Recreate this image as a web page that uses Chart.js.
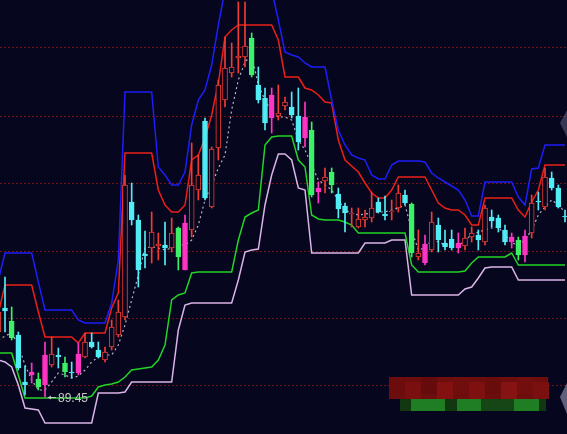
<!DOCTYPE html>
<html>
<head>
<meta charset="utf-8">
<script src="https://cdn.jsdelivr.net/npm/chart.js@4.4.1/dist/chart.umd.min.js"></script>
<style>
  html, body { margin: 0; padding: 0; background: #06061f; overflow: hidden; }
  #wrap { position: relative; width: 567px; height: 434px; }
</style>
</head>
<body>
<div id="wrap"><canvas id="kChart"></canvas></div>
<script>
// daily candles, oldest first
const opens = [
  91.40, 92.12, 91.73, 91.31, 89.90, 90.20, 89.99, 89.81, 90.41, 90.71,
  90.47, 90.20, 90.17, 90.65, 91.10, 90.86, 90.56, 90.95, 91.31, 91.85,
  95.30, 94.76, 93.74, 93.92, 93.98, 94.01, 93.92, 94.52, 93.26, 94.46,
  95.66, 97.73, 95.15, 96.92, 98.36, 99.17, 99.62, 99.65, 100.22, 98.81,
  98.42, 97.82, 97.88, 98.18, 98.15, 97.88, 97.85, 97.46, 95.72, 95.93,
  96.20, 95.54, 95.18, 94.94, 94.55, 94.76, 94.82, 95.30, 94.94, 95.00,
  95.12, 95.51, 95.24, 93.65, 94.04, 93.86, 94.61, 94.07, 94.19, 94.07,
  93.98, 94.25, 94.31, 94.10, 94.85, 94.82, 94.46, 94.25, 94.16, 93.71,
  94.37, 95.33, 95.15, 96.02, 95.72, 94.88
];
const highs = [
  92.66, 93.05, 92.15, 91.40, 90.38, 90.47, 90.17, 91.10, 91.25, 90.92,
  90.65, 90.50, 91.07, 91.37, 91.37, 91.10, 90.95, 91.76, 92.36, 96.11,
  95.87, 94.91, 94.43, 95.00, 94.37, 94.70, 94.82, 94.55, 94.91, 97.07,
  96.71, 97.82, 96.95, 98.96, 100.25, 100.07, 101.30, 101.30, 100.37, 99.35,
  98.72, 98.72, 98.81, 98.45, 98.60, 98.72, 98.30, 97.70, 95.90, 96.32,
  96.32, 95.72, 95.27, 95.12, 95.12, 95.06, 95.60, 95.42, 95.48, 95.36,
  95.81, 95.66, 95.27, 94.46, 94.31, 95.00, 94.82, 94.46, 94.46, 94.37,
  94.52, 94.55, 94.46, 95.21, 95.06, 94.91, 94.61, 94.37, 94.25, 94.46,
  95.51, 95.60, 96.32, 96.20, 95.81, 95.06
];
const lows = [
  91.31, 91.40, 91.16, 90.26, 89.51, 89.87, 89.66, 89.45, 90.35, 90.32,
  90.05, 90.02, 90.11, 90.62, 90.92, 90.62, 90.50, 90.86, 91.25, 91.76,
  94.61, 92.75, 93.32, 93.47, 93.56, 93.41, 93.80, 93.26, 93.26, 94.25,
  95.36, 95.36, 95.12, 96.56, 98.15, 99.05, 99.17, 99.35, 99.05, 98.27,
  97.46, 97.37, 97.76, 98.06, 97.82, 96.86, 96.95, 95.45, 95.27, 95.57,
  95.57, 94.82, 94.40, 94.55, 94.52, 94.55, 94.70, 94.97, 94.76, 94.76,
  95.00, 95.21, 93.65, 93.56, 93.41, 93.80, 93.80, 93.86, 93.86, 93.77,
  93.86, 94.10, 93.86, 94.01, 94.55, 94.40, 94.01, 93.92, 93.56, 93.50,
  94.22, 95.06, 95.06, 95.66, 95.12, 94.70
];
const closes = [
  92.00, 92.03, 91.22, 90.32, 89.81, 90.11, 89.75, 90.71, 90.74, 90.65,
  90.20, 90.17, 90.74, 91.10, 90.95, 90.65, 90.80, 91.55, 92.00, 95.81,
  94.76, 93.26, 93.68, 94.40, 94.04, 93.92, 94.37, 93.65, 94.67, 95.81,
  96.11, 95.42, 96.89, 98.81, 99.32, 99.35, 99.68, 99.98, 99.11, 98.36,
  97.67, 98.51, 97.97, 98.30, 97.91, 97.10, 97.22, 95.51, 95.60, 96.05,
  95.81, 95.09, 94.97, 94.97, 94.79, 94.85, 95.12, 95.00, 94.88, 95.03,
  95.57, 95.27, 93.77, 93.77, 93.47, 94.70, 94.16, 93.95, 93.92, 93.92,
  94.22, 94.37, 94.16, 95.12, 94.73, 94.52, 94.10, 94.10, 93.71, 94.28,
  95.27, 95.30, 96.05, 95.72, 95.15, 94.85
];
// 0 = none, 1 = green signal bar, 2 = magenta signal bar
const signals = [
  0, 0, 1, 0, 0, 2, 1, 2, 0, 0,
  1, 0, 2, 0, 0, 0, 0, 0, 0, 0,
  0, 0, 0, 0, 0, 0, 0, 1, 2, 0,
  0, 0, 0, 0, 0, 0, 0, 0, 1, 0,
  0, 2, 0, 0, 0, 0, 2, 1, 2, 0,
  1, 0, 0, 0, 0, 0, 0, 0, 0, 0,
  0, 0, 1, 0, 2, 0, 0, 0, 0, 2,
  0, 0, 0, 0, 0, 0, 0, 2, 1, 2,
  0, 0, 0, 0, 0, 0
];

// channel lines
const upperBand = [
  92.96, 93.77, 93.77, 93.77, 93.77, 93.77, 92.90, 92.06, 92.06, 92.06,
  92.06, 92.06, 91.76, 91.67, 91.67, 91.67, 91.67, 92.27, 93.56, 98.60,
  98.60, 98.60, 98.60, 98.60, 96.35, 96.11, 95.81, 95.81, 96.20, 97.61,
  98.36, 98.66, 99.41, 100.61, 101.66, 101.96, 101.96, 101.96, 101.96, 101.96,
  101.96, 101.66, 100.76, 99.80, 99.71, 99.65, 99.47, 99.35, 99.35, 99.35,
  98.36, 97.46, 97.01, 96.71, 96.62, 96.56, 96.11, 95.99, 95.99, 96.41,
  96.53, 96.53, 96.53, 96.53, 96.50, 96.17, 96.02, 95.90, 95.78, 95.66,
  95.36, 94.88, 94.88, 95.90, 95.90, 95.90, 95.90, 95.90, 95.45, 95.21,
  96.29, 96.32, 97.01, 97.01, 97.01, 97.01
];
const midBand = [
  91.97, 92.81, 92.81, 92.81, 92.81, 92.81, 92.00, 91.25, 91.25, 91.25,
  91.25, 91.25, 91.07, 91.37, 91.37, 91.37, 91.37, 92.12, 92.57, 96.77,
  96.77, 96.77, 96.77, 96.77, 95.66, 95.21, 95.00, 95.00, 95.21, 96.56,
  96.71, 97.22, 97.91, 98.87, 100.25, 100.46, 100.61, 100.61, 100.61, 100.61,
  100.61, 100.61, 100.16, 99.05, 99.05, 99.05, 98.72, 98.66, 98.51, 98.30,
  98.27, 97.16, 96.56, 96.38, 96.20, 95.87, 95.57, 95.42, 95.42, 95.66,
  96.05, 96.05, 96.05, 96.05, 96.05, 95.66, 95.27, 95.12, 95.06, 95.06,
  94.91, 94.61, 94.61, 95.42, 95.42, 95.42, 95.42, 95.42, 95.06, 94.85,
  95.30, 95.66, 96.41, 96.41, 96.41, 96.41
];
const lowerBand = [
  90.77, 90.77, 90.77, 90.11, 89.42, 89.42, 89.42, 89.42, 89.42, 89.42,
  89.42, 89.42, 89.42, 89.42, 89.48, 89.75, 89.81, 89.84, 89.90, 90.05,
  90.26, 90.29, 90.32, 90.35, 90.56, 91.01, 92.36, 92.51, 92.57, 93.17,
  93.20, 93.20, 93.20, 93.20, 93.20, 93.20, 94.16, 94.85, 94.97, 95.06,
  97.01, 97.25, 97.28, 97.28, 97.28, 96.56, 96.35, 94.91, 94.79, 94.76,
  94.76, 94.76, 94.70, 94.61, 94.37, 94.37, 94.37, 94.37, 94.37, 94.37,
  94.37, 94.37, 93.41, 93.20, 93.20, 93.20, 93.20, 93.20, 93.20, 93.20,
  93.23, 93.47, 93.65, 93.65, 93.65, 93.65, 93.65, 93.77, 93.41, 93.41,
  93.41, 93.41, 93.41, 93.41, 93.41, 93.41
];
const floorBand = [
  90.56, 90.50, 90.35, 89.81, 89.12, 89.09, 89.06, 88.67, 88.67, 88.67,
  88.67, 88.67, 88.67, 88.67, 88.67, 89.57, 89.57, 89.57, 89.57, 89.60,
  89.90, 89.90, 89.90, 89.90, 89.90, 89.90, 89.90, 91.46, 92.21, 92.27,
  92.27, 92.27, 92.27, 92.27, 92.27, 92.27, 92.96, 93.80, 93.86, 93.89,
  95.21, 96.11, 96.74, 96.74, 96.56, 95.72, 95.66, 93.77, 93.77, 93.77,
  93.77, 93.77, 93.77, 93.77, 93.77, 94.07, 94.07, 94.07, 94.07, 94.16,
  94.16, 94.16, 92.51, 92.51, 92.51, 92.51, 92.51, 92.51, 92.51, 92.51,
  92.69, 92.75, 93.02, 93.32, 93.35, 93.35, 93.35, 93.35, 92.96, 92.96,
  92.96, 92.96, 92.96, 92.96, 92.96, 92.96
];
const trailStop = [
  91.16, 91.28, 91.37, 91.01, 90.41, 89.96, 89.66, 89.66, 89.90, 90.17,
  90.11, 90.02, 90.08, 90.26, 90.50, 90.65, 90.71, 90.71, 91.01, 91.61,
  92.36, 93.11, 93.92, 93.95, 93.92, 93.86, 93.92, 94.01, 94.01, 94.16,
  94.61, 95.36, 95.81, 96.32, 96.71, 98.06, 98.96, 99.50, 99.71, 98.81,
  98.36, 98.00, 97.85, 97.85, 97.76, 97.16, 96.86, 96.41, 95.96, 95.81,
  95.66, 95.36, 95.06, 94.97, 94.91, 94.94, 94.97, 95.00, 95.00, 95.06,
  95.12, 95.21, 94.46, 93.86, 93.92, 94.16, 94.10, 94.01, 94.01, 93.98,
  94.16, 94.31, 94.40, 94.46, 94.52, 94.55, 94.31, 94.07, 94.01, 94.16,
  94.46, 94.91, 95.15, 95.36, 95.21, 95.00
];

// horizontal dotted guide levels
const gridLevels = [99.92, 97.88, 95.84, 93.83, 91.82, 89.81];
const priceMin = 88.34;
const priceMax = 101.36;

const BG = "#06061f";
const UP = "#f03c32";
const DOWN = "#52ecf4";
const SIG_GREEN = "#3cf068";
const SIG_MAGENTA = "#ff34c4";

function candleColor(i) {
  if (signals[i] === 1) return SIG_GREEN;
  if (signals[i] === 2) return SIG_MAGENTA;
  return closes[i] >= opens[i] ? UP : DOWN;
}
function bodyFill(i) {
  if (signals[i] === 0 && closes[i] >= opens[i]) return BG;
  return candleColor(i);
}

function lineSet(values, color, order, width, dash) {
  return {
    type: "line",
    data: values.map((v, i) => ({ x: i, y: v })),
    borderColor: color,
    borderWidth: width,
    borderDash: dash || [],
    pointRadius: 0,
    tension: 0,
    order
  };
}

const lowIdx = lows.indexOf(Math.min(...lows));

const backdrop = {
  id: "backdrop",
  beforeDraw(chart) {
    const { ctx, width, height } = chart;
    ctx.save();
    ctx.fillStyle = BG;
    ctx.fillRect(0, 0, width, height);
    ctx.restore();
  },
  afterDraw(chart) {
    const { ctx, scales } = chart;
    // lowest price marker
    const x = scales.x.getPixelForValue(lowIdx);
    const y = Math.round(scales.y.getPixelForValue(lows[lowIdx])) + 0.5;
    ctx.save();
    ctx.strokeStyle = "#c8c8c8";
    ctx.fillStyle = "#c8c8c8";
    ctx.lineWidth = 1;
    ctx.beginPath();
    ctx.moveTo(x + 3, y);
    ctx.lineTo(x + 11, y);
    ctx.stroke();
    ctx.beginPath();
    ctx.moveTo(x + 3, y);
    ctx.lineTo(x + 6, y - 2);
    ctx.lineTo(x + 6, y + 2);
    ctx.closePath();
    ctx.fill();
    ctx.font = '12px "Liberation Sans", Arial, sans-serif';
    ctx.textBaseline = "middle";
    ctx.fillText(lows[lowIdx].toFixed(2), x + 13, y + 1);

    // blurred corner badge
    const reds = ["#6c0c0c", "#7a0f0f", "#660b0b", "#831111", "#700d0d", "#7e1010", "#690c0c", "#861313", "#720e0e", "#7b1010"];
    ctx.fillStyle = "#6e0d0d";
    ctx.fillRect(389, 377, 159, 22);
    for (let k = 0; k < 10; k++) {
      ctx.fillStyle = reds[k];
      ctx.fillRect(389 + k * 16, 377 + (k % 2) * 5, 16, 17);
    }
    ctx.fillStyle = "#123812";
    ctx.fillRect(400, 399, 146, 12);
    ctx.fillStyle = "#1f7d23";
    ctx.fillRect(411, 399, 34, 12);
    ctx.fillRect(457, 399, 24, 12);
    ctx.fillRect(514, 399, 25, 12);
    ctx.fillStyle = "#164616";
    ctx.fillRect(481, 399, 33, 12);

    // edge scroll markers
    ctx.fillStyle = "rgba(170,170,200,0.55)";
    ctx.beginPath();
    ctx.moveTo(560, 397);
    ctx.lineTo(567, 383);
    ctx.lineTo(567, 414);
    ctx.closePath();
    ctx.fill();
    ctx.fillStyle = "rgba(150,150,180,0.35)";
    ctx.beginPath();
    ctx.moveTo(560, 123);
    ctx.lineTo(567, 110);
    ctx.lineTo(567, 137);
    ctx.closePath();
    ctx.fill();
    ctx.restore();
  }
};

new Chart(document.getElementById("kChart"), {
  data: {
    datasets: [
      {
        type: "bar",
        data: opens.map((o, i) => ({ x: i, y: [o, closes[i]] })),
        grouped: false,
        barThickness: 5,
        minBarLength: 1,
        borderSkipped: false,
        borderWidth: 1,
        backgroundColor: c => bodyFill(c.dataIndex),
        borderColor: c => candleColor(c.dataIndex),
        order: 0
      },
      {
        type: "bar",
        data: lows.map((l, i) => ({ x: i, y: [l, highs[i]] })),
        grouped: false,
        barThickness: 1,
        borderWidth: 0,
        backgroundColor: c => candleColor(c.dataIndex),
        order: 1
      },
      lineSet(trailStop, "#b4b4c8", 2, 1.2, [2, 3]),
      lineSet(upperBand, "#1e1ef8", 3, 1.5),
      lineSet(midBand, "#ec2018", 4, 1.5),
      lineSet(lowerBand, "#22d424", 5, 1.5),
      lineSet(floorBand, "#dab4e6", 6, 1.5)
    ]
  },
  options: {
    responsive: true,
    maintainAspectRatio: false,
    animation: false,
    layout: { padding: 0 },
    plugins: {
      legend: { display: false },
      tooltip: { enabled: false }
    },
    scales: {
      x: {
        type: "linear",
        min: 0.25,
        max: 85.3,
        offset: false,
        display: false
      },
      y: {
        type: "linear",
        min: priceMin,
        max: priceMax,
        beginAtZero: false,
        afterBuildTicks: scale => {
          scale.ticks = gridLevels.map(v => ({ value: v }));
        },
        ticks: { display: false },
        grid: { color: "#701414", drawTicks: false, lineWidth: 1 },
        border: { display: false, dash: [2, 2] }
      }
    }
  },
  plugins: [backdrop]
});
</script>
</body>
</html>
